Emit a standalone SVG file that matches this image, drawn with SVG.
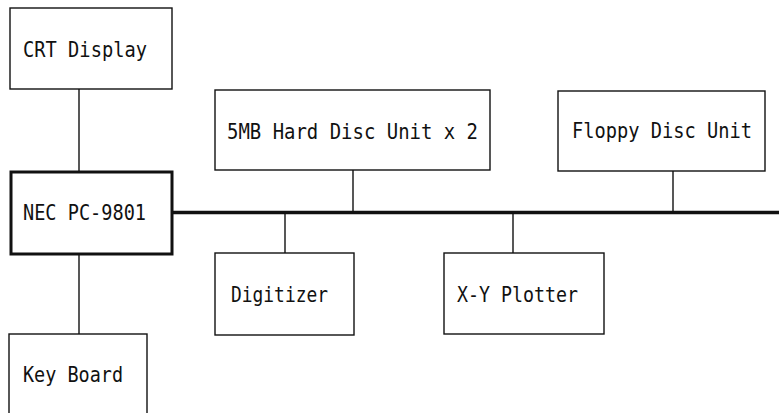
<svg xmlns="http://www.w3.org/2000/svg" width="779" height="413" viewBox="0 0 779 413">
<style>
.box{fill:#fff;stroke:#111;stroke-width:1.4}
.main{fill:#fff;stroke:#111;stroke-width:3}
.lbl{font-family:"DejaVu Sans Mono","Liberation Mono",monospace;font-size:20.5px;fill:#111}
.wire{stroke:#111;stroke-width:1.4;fill:none}
.bus{stroke:#111;stroke-width:3.5;fill:none}
</style>
<rect width="779" height="413" fill="#fff"/>
<g id="connectors">
<line class="wire" x1="79" y1="89" x2="79" y2="171"/>
<line class="wire" x1="79" y1="254" x2="79" y2="334"/>
<line class="bus" x1="172" y1="212.5" x2="779" y2="212.5"/>
<line class="wire" x1="353" y1="170" x2="353" y2="212"/>
<line class="wire" x1="673" y1="171" x2="673" y2="212"/>
<line class="wire" x1="285" y1="213" x2="285" y2="253"/>
<line class="wire" x1="513" y1="213" x2="513" y2="253"/>
</g>
<g id="crt">
<rect class="box" x="10" y="8" width="162" height="81"/>
<text class="lbl" x="23" y="57" textLength="124" lengthAdjust="spacingAndGlyphs">CRT Display</text>
</g>
<g id="nec">
<rect class="main" x="11" y="172" width="161" height="82"/>
<text class="lbl" x="23" y="220" textLength="123" lengthAdjust="spacingAndGlyphs">NEC PC-9801</text>
</g>
<g id="keyboard">
<rect class="box" x="9" y="334" width="138" height="100"/>
<text class="lbl" x="23" y="382" textLength="100" lengthAdjust="spacingAndGlyphs">Key Board</text>
</g>
<g id="harddisc">
<rect class="box" x="215" y="90" width="275" height="80"/>
<text class="lbl" x="227" y="139" textLength="251" lengthAdjust="spacingAndGlyphs">5MB Hard Disc Unit x 2</text>
</g>
<g id="floppy">
<rect class="box" x="558" y="91" width="207" height="80"/>
<text class="lbl" x="572" y="138" textLength="180" lengthAdjust="spacingAndGlyphs">Floppy Disc Unit</text>
</g>
<g id="digitizer">
<rect class="box" x="215" y="253" width="139" height="82"/>
<text class="lbl" x="231" y="302" textLength="97" lengthAdjust="spacingAndGlyphs">Digitizer</text>
</g>
<g id="plotter">
<rect class="box" x="444" y="253" width="160" height="81"/>
<text class="lbl" x="457" y="302" textLength="121" lengthAdjust="spacingAndGlyphs">X-Y Plotter</text>
</g>
</svg>
